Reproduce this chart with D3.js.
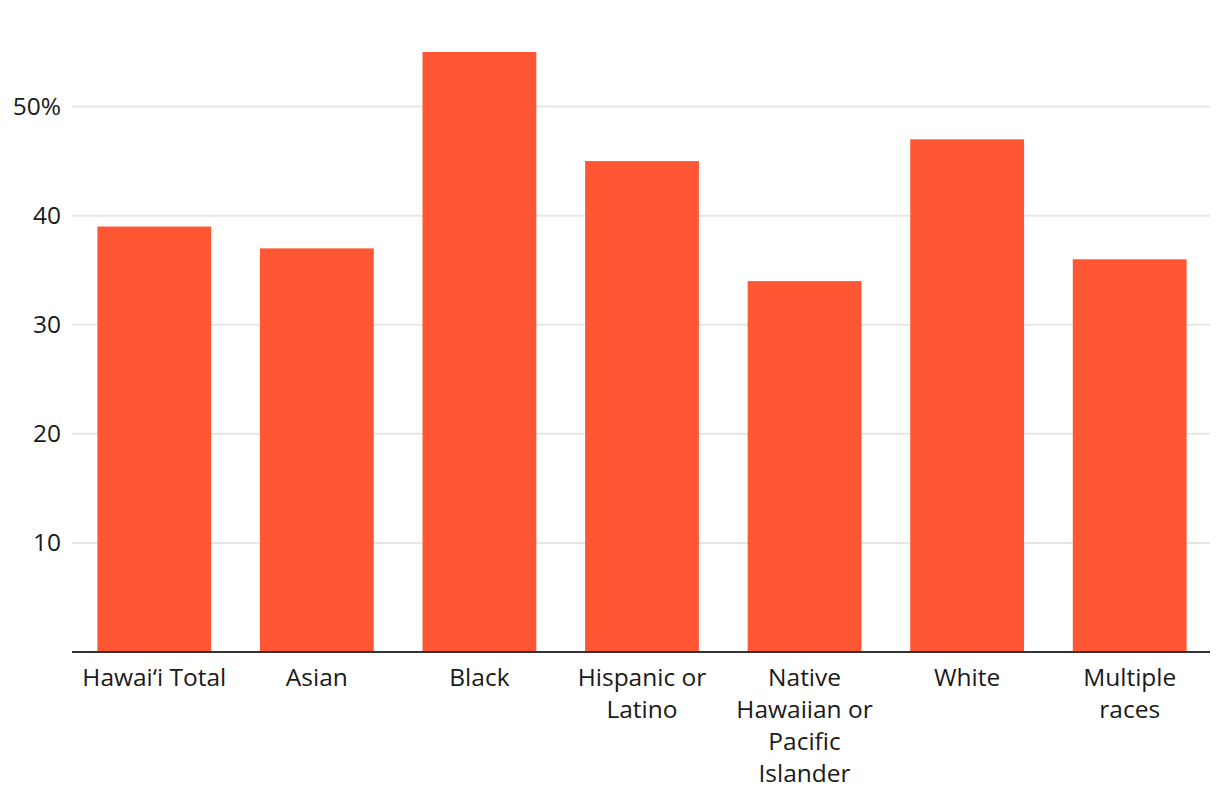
<!DOCTYPE html>
<html>
<head>
<meta charset="utf-8">
<script src="https://cdn.jsdelivr.net/npm/d3@7"></script>
<style>
  html, body { margin: 0; padding: 0; background: #fff; }
  svg { display: block; }
  text { font-family: "Open Sans", "Lato", sans-serif; fill: #1a1a1a; }
</style>
</head>
<body>
<svg id="chart" width="1220" height="808"></svg>
<script>
const categories = ["Hawai‘i Total", "Asian", "Black", "Hispanic or Latino", "Native Hawaiian or Pacific Islander", "White", "Multiple races"];
const labelLines = [["Hawai‘i Total"], ["Asian"], ["Black"], ["Hispanic or", "Latino"], ["Native", "Hawaiian or", "Pacific", "Islander"], ["White"], ["Multiple", "races"]];
const values = [39, 37, 55, 45, 34, 47, 36];
const yTicks = [10, 20, 30, 40, 50];
const yTickLabels = ["10", "20", "30", "40", "50%"];

(function () {
const svg = d3.select("#chart");
const mLeft = 73, mRight = 1211, mTop = 52, mBottom = 652;

const x = d3.scaleBand().domain(categories).range([mLeft, mRight]).paddingInner(0.3).paddingOuter(0.15);
const y = d3.scaleLinear().domain([0, 55]).range([mBottom, mTop]);

// gridlines
svg.append("g").selectAll("line").data(yTicks).join("line")
  .attr("x1", 72).attr("x2", 1210)
  .attr("y1", d => y(d)).attr("y2", d => y(d))
  .attr("stroke", "#e6e6e6").attr("stroke-width", 2);

// y labels
svg.append("g").selectAll("text").data(yTicks).join("text")
  .attr("x", 61).attr("y", d => y(d)).attr("dy", "0.35em")
  .attr("text-anchor", "end").attr("font-size", 24.5)
  .text((d, i) => yTickLabels[i]);

// bars
svg.append("g").selectAll("rect").data(values).join("rect")
  .attr("x", (d, i) => x(categories[i]))
  .attr("width", x.bandwidth())
  .attr("y", d => y(d))
  .attr("height", d => y(0) - y(d))
  .attr("fill", "#ff5733");

// baseline
svg.append("line").attr("x1", 72).attr("x2", 1210)
  .attr("y1", y(0)).attr("y2", y(0))
  .attr("stroke", "#333").attr("stroke-width", 2);

// x labels
const xl = svg.append("g").selectAll("text").data(categories).join("text")
  .attr("text-anchor", "middle").attr("font-size", 24.5)
  .attr("x", d => x(d) + x.bandwidth() / 2)
  .attr("y", y(0) + 34);
xl.each(function(d, i) {
  d3.select(this).selectAll("tspan").data(labelLines[i]).join("tspan")
    .attr("x", x(d) + x.bandwidth() / 2)
    .attr("dy", (l, j) => j === 0 ? 0 : 32)
    .text(l => l);
});
})();
</script>
</body>
</html>
